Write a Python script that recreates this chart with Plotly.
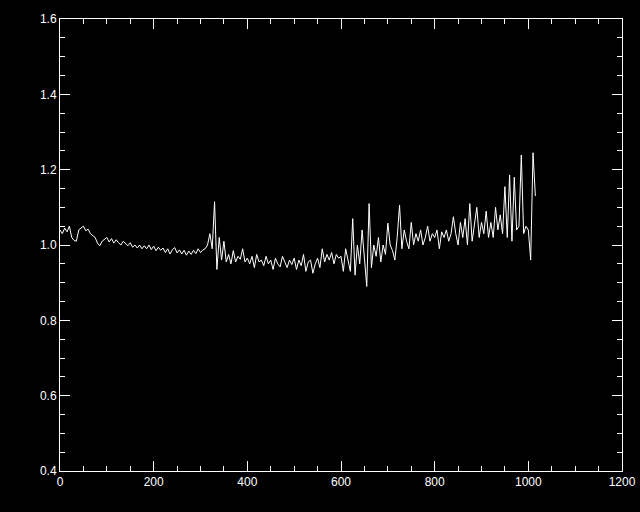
import plotly.graph_objects as go

step = 5
y_values = [
    # 0-95
    1.04, 1.03, 1.045, 1.035, 1.05, 1.02, 1.012, 1.01, 1.04, 1.045,
    1.05, 1.038, 1.042, 1.03, 1.025, 1.02, 1.005, 0.998, 1.01, 1.015,
    # 100-195
    1.02, 1.008, 1.017, 1.005, 1.014, 1.006, 1.0, 1.01, 1.003, 0.998,
    1.006, 0.994, 1.0, 0.992, 1.0, 0.99, 0.998, 0.99, 1.0, 0.988,
    # 200-295
    0.997, 0.985, 0.994, 0.986, 0.992, 0.98, 0.99, 0.976, 0.988, 0.993,
    0.979, 0.987, 0.976, 0.986, 0.973, 0.984, 0.975, 0.986, 0.977, 0.99,
    # 300-395
    0.98, 0.987, 0.99, 1.0, 1.03, 0.99, 1.115, 0.935, 1.02, 0.96,
    1.01, 0.955, 0.975, 0.95, 0.985, 0.955, 0.97, 0.962, 0.99, 0.955,
    # 400-495
    0.965, 0.95, 0.97, 0.94, 0.975, 0.955, 0.96, 0.945, 0.97, 0.95,
    0.96, 0.935, 0.965, 0.95, 0.942, 0.97, 0.955, 0.94, 0.96, 0.948,
    # 500-595
    0.965, 0.935, 0.96, 0.945, 0.975, 0.93, 0.955, 0.96, 0.925, 0.95,
    0.965, 0.94, 0.99, 0.955, 0.975, 0.96, 0.98, 0.95, 0.975, 0.965,
    # 600-695
    0.97, 0.93, 0.99, 0.96, 0.93, 1.07, 0.92, 1.0, 0.95, 1.04,
    0.96, 0.89, 1.11, 0.94, 1.0, 0.97, 1.02, 0.955, 1.0, 0.975,
    # 700-795
    1.058, 1.0, 0.985, 0.96, 1.02, 1.106, 0.99, 1.04, 1.01, 0.99,
    1.06, 1.0, 1.03, 1.01, 1.04, 1.0, 1.02, 1.05, 1.01, 1.03,
    # 800-895
    1.02, 1.04, 0.99, 1.035, 1.02, 1.04, 1.01, 1.03, 1.075, 1.03,
    1.0, 1.06, 1.02, 1.07, 1.0, 1.11, 1.01, 1.05, 1.1, 1.02,
    # 900-995
    1.06, 1.03, 1.09, 1.02, 1.06, 1.02, 1.1, 1.04, 1.08, 1.03,
    1.155, 1.02, 1.186, 1.01, 1.18, 1.04, 1.05, 1.239, 1.03, 1.05,
    # 1000-1015
    1.04, 0.96, 1.245, 1.13,
]
x_values = [i * step for i in range(len(y_values))]

x_ticks = [0, 200, 400, 600, 800, 1000, 1200]
y_ticks = [0.4, 0.6, 0.8, 1.0, 1.2, 1.4, 1.6]

fig = go.Figure(go.Scatter(x=x_values, y=y_values, mode="lines",
                           line=dict(color="white", width=1)))

axis_common = dict(
    showgrid=False, zeroline=False, showline=True, linecolor="white", linewidth=1,
    mirror="allticks", ticks="inside", ticklen=10, tickcolor="white", tickwidth=1,
    automargin=False,
    tickfont=dict(family="Liberation Sans, Arial, sans-serif", size=12, color="white"),
)

fig.update_xaxes(range=[0, 1200], tickvals=x_ticks, ticktext=[str(v) for v in x_ticks],
                 minor=dict(ticks="inside", ticklen=5, dtick=50, tickcolor="white", tickwidth=1),
                 **axis_common)
fig.update_yaxes(range=[0.4, 1.6], tickvals=y_ticks, ticktext=[f"{v:.1f}" for v in y_ticks],
                 minor=dict(ticks="inside", ticklen=5, dtick=0.05, tickcolor="white", tickwidth=1),
                 **axis_common)

fig.update_layout(
    width=640, height=512,
    paper_bgcolor="black", plot_bgcolor="black",
    margin=dict(l=60, r=18, t=19, b=41),
    showlegend=False,
)

fig.write_html(
    "out.html",
    config={"displayModeBar": False},
    post_script="document.body.style.margin='0';document.body.style.background='black';",
)
